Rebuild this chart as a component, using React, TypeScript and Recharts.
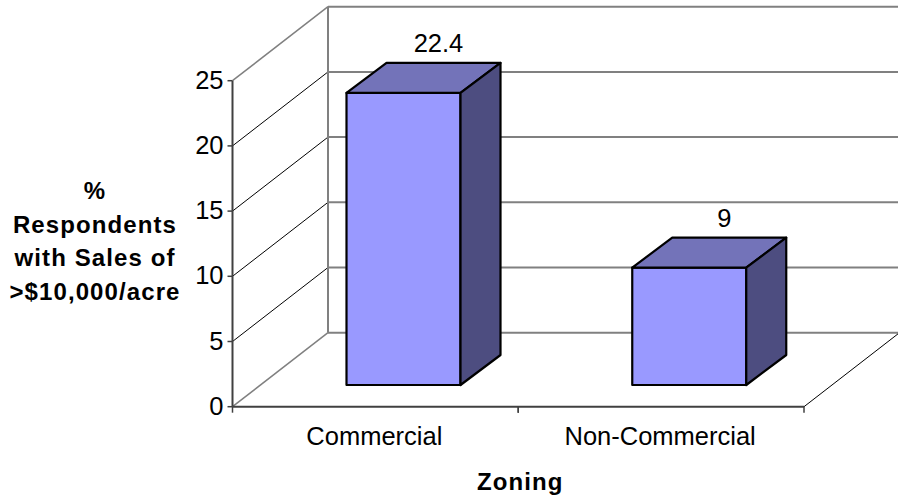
import React from 'react';
import { BarChart, Bar, CartesianGrid, XAxis, YAxis, LabelList } from 'recharts';

const categories = ['Commercial', 'Non-Commercial'];
const respondentShares = [22.4, 9];
const valueTicks = [0, 5, 10, 15, 20, 25];
const valueTitleLines = ['%', 'Respondents', 'with Sales of', '>$10,000/acre'];
const categoryTitle = 'Zoning';

const chartData = categories.map((name, i) => ({ name, value: respondentShares[i] }));

const FONT = '"Liberation Sans", Arial, sans-serif';
const TEXT_SIZE = 25.5;
const TITLE_SIZE = 24;
const TITLE_SPACING = 1.1;

// oblique projection of the chart box: back wall vs. front plane
const WALL_DX = 95.5;
const WALL_DY = -74;
// bars stand part of the way into the box and are themselves this deep
const BAR_INSET_DX = 28;
const BAR_INSET_DY = -21.7;
const BAR_DEPTH_DX = 40;
const BAR_DEPTH_DY = -30;

const WALL_GRAY = '#808080';
const AXIS_GRAY = '#404040';

// one value level: a diagonal up the side wall, then across the back wall
const WallLine = (props: any) => {
    const { x1, y1, x2, y, height } = props;
    const isTop = Math.abs(y1 - y) < 0.5;
    const isFloor = Math.abs(y1 - (y + height)) < 0.5;
    const backX = x1 + WALL_DX;
    const backY = y1 + WALL_DY;
    const edge = isTop || isFloor;
    return (
        <g fill="none">
            <line x1={x1} y1={y1} x2={backX} y2={backY} stroke={edge ? WALL_GRAY : '#000'} strokeWidth={edge ? 1.5 : 1} />
            <line x1={backX} y1={backY} x2={x2 + WALL_DX} y2={backY} stroke={WALL_GRAY} strokeWidth={2} />
            {isTop && <line x1={backX} y1={backY} x2={backX} y2={backY + height} stroke={WALL_GRAY} strokeWidth={2} />}
            {isFloor && <line x1={x2} y1={y1} x2={x2 + WALL_DX} y2={backY} stroke="#000" strokeWidth={1} />}
        </g>
    );
};

const Box3D = (props: any) => {
    const { x, y, width, height } = props;
    const left = x + BAR_INSET_DX;
    const right = left + width;
    const top = y + BAR_INSET_DY;
    const bottom = top + height;
    const outline = { stroke: '#000', strokeWidth: 2.2, strokeLinejoin: 'round' as const };
    return (
        <g>
            <rect x={left} y={top} width={width} height={height} fill="#9999ff" {...outline} />
            <polygon
                points={`${left},${top} ${left + BAR_DEPTH_DX},${top + BAR_DEPTH_DY} ${right + BAR_DEPTH_DX},${top + BAR_DEPTH_DY} ${right},${top}`}
                fill="#7373b9"
                {...outline}
            />
            <polygon
                points={`${right},${top} ${right + BAR_DEPTH_DX},${top + BAR_DEPTH_DY} ${right + BAR_DEPTH_DX},${bottom + BAR_DEPTH_DY} ${right},${bottom}`}
                fill="#4d4d80"
                {...outline}
            />
        </g>
    );
};

const BoxValue = (props: any) => {
    const { x, y, width, value } = props;
    return (
        <text
            x={x + width / 2 + BAR_INSET_DX + 35}
            y={y + BAR_INSET_DY - 40.5}
            textAnchor="middle"
            fontFamily={FONT}
            fontSize={TEXT_SIZE}
            fill="#000"
        >
            {value}
        </text>
    );
};

// category label centred in its band, tick marks on the band edges
const CategoryTick = (props: any) => {
    const { x, y, payload, width } = props;
    const band = width / categories.length;
    const left = x - band / 2;
    const right = x + band / 2;
    return (
        <g>
            <line x1={left} y1={y - 8} x2={left} y2={y - 2} stroke={AXIS_GRAY} strokeWidth={1.5} />
            <line x1={right} y1={y - 8} x2={right} y2={y - 2} stroke={AXIS_GRAY} strokeWidth={1.5} />
            <text x={x - 1} y={y + 30} textAnchor="middle" fontFamily={FONT} fontSize={TEXT_SIZE} fill="#000">
                {payload.value}
            </text>
        </g>
    );
};

const ValueTitle = () => (
    <text
        fontFamily={FONT}
        fontSize={TITLE_SIZE}
        fontWeight="bold"
        letterSpacing={TITLE_SPACING}
        textAnchor="middle"
        fill="#000"
    >
        {valueTitleLines.map((line, i) => (
            <tspan key={line} x={95} y={199 + i * 33.5}>
                {line}
            </tspan>
        ))}
    </text>
);

const CategoryTitle = (props: any) => {
    const { viewBox } = props;
    return (
        <text
            x={viewBox.x + viewBox.width / 2 + 2}
            y={490}
            textAnchor="middle"
            fontFamily={FONT}
            fontSize={TITLE_SIZE}
            fontWeight="bold"
            letterSpacing={TITLE_SPACING}
            fill="#000"
        >
            {categoryTitle}
        </text>
    );
};

export default function App() {
    return (
        <div style={{ position: 'absolute', left: 0, top: 0, width: 898, height: 497, overflow: 'hidden', background: '#fff' }}>
            <BarChart
                width={898}
                height={497}
                data={chartData}
                margin={{ top: 80.7, right: 94, bottom: 0, left: 0 }}
                barSize={114}
            >
                <CartesianGrid vertical={false} horizontal={(p: any) => <WallLine key={p.key} {...p} />} />
                <XAxis
                    dataKey="name"
                    height={90.3}
                    interval={0}
                    axisLine={{ stroke: AXIS_GRAY, strokeWidth: 2 }}
                    tickLine={false}
                    tick={<CategoryTick />}
                    label={{ content: <CategoryTitle /> }}
                />
                <YAxis
                    width={232.5}
                    domain={[0, 25]}
                    ticks={valueTicks}
                    interval={0}
                    axisLine={{ stroke: AXIS_GRAY, strokeWidth: 2 }}
                    tickLine={{ stroke: AXIS_GRAY, strokeWidth: 1.5 }}
                    tickSize={5}
                    tickMargin={4}
                    tick={{ fontFamily: FONT, fontSize: TEXT_SIZE, fill: '#000', dy: -1 }}
                    label={{ content: <ValueTitle /> }}
                />
                <Bar dataKey="value" shape={<Box3D />} isAnimationActive={false}>
                    <LabelList dataKey="value" content={<BoxValue />} />
                </Bar>
            </BarChart>
        </div>
    );
}
